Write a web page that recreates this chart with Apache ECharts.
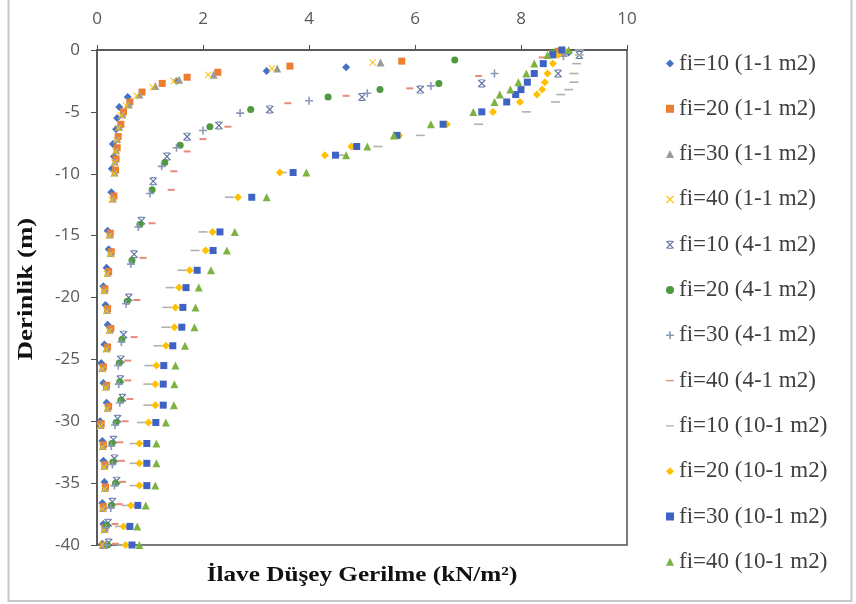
<!DOCTYPE html>
<html><head><meta charset="utf-8">
<script src="https://cdn.jsdelivr.net/npm/echarts@6/dist/echarts.min.js"></script>
<style>html,body{margin:0;padding:0;background:#fff}#c{width:856px;height:604px}</style>
</head><body><div id="c"></div>
<script>
// ---------- DATA ----------
const seriesNames = [
  'fi=10 (1-1 m2)','fi=20 (1-1 m2)','fi=30 (1-1 m2)','fi=40 (1-1 m2)',
  'fi=10 (4-1 m2)','fi=20 (4-1 m2)','fi=30 (4-1 m2)','fi=40 (4-1 m2)',
  'fi=10 (10-1 m2)','fi=20 (10-1 m2)','fi=30 (10-1 m2)','fi=40 (10-1 m2)'
];
const xAxisTitle = 'İlave Düşey Gerilme (kN/m²)';
const yAxisTitle = 'Derinlik (m)';

// 1-1 m2 group: [stress, depth]
const s1 = [[8.9,-0.2],[4.7,-1.4],[3.2,-1.7],[1.5,-2.5],[0.58,-3.8],[0.42,-4.6],[0.38,-5.5],[0.36,-6.4],[0.3,-7.6],[0.32,-8.6],[0.28,-9.6],[0.27,-11.5],[0.2,-14.6],[0.22,-16.1],[0.18,-17.6],[0.12,-19.1],[0.16,-20.6],[0.2,-22.2],[0.14,-23.8],[0.08,-25.3],[0.12,-26.9],[0.18,-28.5],[0.06,-30],[0.1,-31.6],[0.12,-33.2],[0.14,-34.9],[0.1,-36.6],[0.12,-38.3],[0.1,-39.9]];
const s2 = [[8.7,-0.1],[5.75,-0.9],[3.64,-1.3],[2.28,-1.8],[1.7,-2.2],[1.23,-2.7],[0.85,-3.4],[0.62,-4.2],[0.5,-5.0],[0.45,-6.0],[0.4,-7.0],[0.38,-7.9],[0.36,-8.8],[0.35,-9.7],[0.32,-11.8],[0.25,-14.8],[0.27,-16.3],[0.22,-17.9],[0.15,-19.3],[0.2,-20.9],[0.26,-22.5],[0.2,-24],[0.12,-25.6],[0.18,-27.1],[0.22,-28.8],[0.08,-30.2],[0.12,-31.9],[0.15,-33.5],[0.16,-35.3],[0.12,-36.9],[0.15,-38.6],[0.12,-40]];
const s3 = [[8.8,-0.2],[5.35,-1.0],[3.4,-1.5],[2.2,-2.0],[1.55,-2.4],[1.1,-2.9],[0.8,-3.6],[0.6,-4.4],[0.48,-5.2],[0.42,-6.2],[0.38,-7.2],[0.36,-8.1],[0.34,-9.0],[0.33,-9.9],[0.3,-12],[0.24,-14.9],[0.26,-16.4],[0.2,-18],[0.14,-19.4],[0.19,-21],[0.24,-22.6],[0.18,-24.1],[0.1,-25.7],[0.17,-27.2],[0.2,-28.9],[0.07,-30.3],[0.11,-32],[0.14,-33.6],[0.15,-35.4],[0.11,-37],[0.14,-38.7],[0.11,-40]];
const s4 = [[8.6,-0.3],[5.2,-1.0],[3.3,-1.5],[2.1,-2.0],[1.45,-2.5],[1.05,-3.0],[0.75,-3.7],[0.55,-4.5],[0.46,-5.3],[0.4,-6.3],[0.37,-7.3],[0.35,-8.2],[0.33,-9.1],[0.32,-10.0],[0.28,-12.1],[0.23,-15],[0.25,-16.5],[0.19,-18.1],[0.13,-19.5],[0.18,-21.1],[0.23,-22.7],[0.17,-24.2],[0.1,-25.8],[0.16,-27.3],[0.19,-29],[0.06,-30.4],[0.1,-32.1],[0.13,-33.7],[0.14,-35.5],[0.1,-37.1],[0.13,-38.8],[0.1,-40]];

// 4-1 m2 group: [stress, depth]
const s5 = [[9.1,-0.4],[8.7,-1.9],[7.26,-2.7],[6.1,-3.2],[5.0,-3.8],[3.26,-4.8],[2.3,-6.1],[1.7,-7.0],[1.32,-8.6],[1.06,-10.6],[0.84,-13.8],[0.7,-16.5],[0.6,-20.0],[0.5,-23.0],[0.45,-25.0],[0.44,-26.6],[0.48,-28.1],[0.39,-29.8],[0.31,-31.5],[0.33,-33.0],[0.37,-34.8],[0.29,-36.5],[0.21,-38.2],[0.22,-39.8]];
const s6 = [[8.6,-0.2],[6.75,-0.8],[6.45,-2.7],[5.34,-3.2],[4.36,-3.8],[2.9,-4.8],[2.13,-6.2],[1.57,-7.7],[1.28,-9.1],[1.04,-11.3],[0.81,-14.1],[0.66,-17.0],[0.57,-20.3],[0.47,-23.4],[0.42,-25.3],[0.43,-26.8],[0.45,-28.3],[0.36,-30.1],[0.28,-31.8],[0.3,-33.3],[0.35,-35.0],[0.27,-36.8],[0.18,-38.4],[0.2,-40]];
const s7 = [[8.8,-0.5],[7.5,-1.9],[6.3,-2.9],[5.1,-3.5],[4.0,-4.1],[2.7,-5.1],[2.0,-6.5],[1.5,-7.9],[1.22,-9.4],[1.0,-11.6],[0.78,-14.3],[0.64,-17.3],[0.55,-20.5],[0.46,-23.6],[0.4,-25.5],[0.41,-27.0],[0.43,-28.5],[0.34,-30.3],[0.27,-32.0],[0.29,-33.5],[0.33,-35.2],[0.26,-37.0],[0.17,-38.6],[0.18,-40]];
const s8 = [[8.4,-0.6],[7.2,-2.1],[5.9,-3.1],[4.7,-3.7],[3.6,-4.3],[2.47,-6.2],[2.0,-7.2],[1.7,-8.2],[1.45,-9.8],[1.4,-11.3],[1.04,-14.0],[0.87,-16.8],[0.75,-20.2],[0.7,-23.2],[0.58,-25.1],[0.58,-26.7],[0.62,-28.2],[0.53,-30.0],[0.43,-31.7],[0.46,-33.2],[0.48,-34.9],[0.42,-36.7],[0.34,-38.3],[0.35,-39.9]];

// 10-1 m2 group: depths shared, stresses per series
const depth10 = [0,-0.4,-1.1,-1.9,-2.6,-3.2,-3.6,-4.2,-5.0,-6.0,-6.9,-7.8,-8.5,-9.9,-11.9,-14.7,-16.2,-17.8,-19.2,-20.8,-22.4,-23.9,-25.5,-27.0,-28.7,-30.1,-31.8,-33.4,-35.2,-36.8,-38.5,-40];
const s9x  = [9.1,9.1,9.05,9.0,9.0,8.9,8.75,8.65,8.1,7.2,6.1,5.3,4.6,3.5,2.5,2.0,1.85,1.6,1.38,1.32,1.3,1.15,0.98,0.96,0.96,0.84,0.7,0.7,0.7,0.55,0.42,0.46];
const s10x = [8.8,8.7,8.6,8.5,8.45,8.4,8.3,7.98,7.47,6.6,5.7,4.8,4.3,3.45,2.66,2.18,2.05,1.75,1.55,1.48,1.46,1.3,1.12,1.1,1.1,0.97,0.8,0.8,0.8,0.64,0.5,0.54];
const s11x = [8.77,8.6,8.42,8.25,8.12,8.0,7.9,7.73,7.26,6.53,5.66,4.9,4.5,3.7,2.92,2.32,2.19,1.89,1.68,1.62,1.6,1.43,1.26,1.25,1.25,1.11,0.94,0.94,0.94,0.77,0.62,0.66];
const s12x = [8.9,8.5,8.25,8.1,7.95,7.8,7.6,7.5,7.1,6.3,5.6,5.1,4.7,3.95,3.2,2.6,2.45,2.15,1.92,1.86,1.84,1.66,1.48,1.46,1.45,1.3,1.12,1.12,1.1,0.92,0.76,0.8];

// ---------- STYLE ----------
const colors = ['#4472C4','#ED7D31','#9A9A9A','#FFC000','#5B6FA0','#4E9A3E','#8A9AB8','#E88A7A','#B0B0B0','#FFC000','#3F63C4','#7CB342'];
const SYM_X = 'path://M0,1L1,0L5,4L9,0L10,1L6,5L10,9L9,10L5,6L1,10L0,9L4,5Z';
const SYM_STAR = 'path://M0,1L1,0L5,4L9,0L10,1L6,5L10,9L9,10L5,6L1,10L0,9L4,5Z M2,0L8,0L8,1.2L2,1.2Z M2,8.8L8,8.8L8,10L2,10Z';
const SYM_PLUS = 'path://M4,0H6V4H10V6H6V10H4V6H0V4H4Z';
const SYM_DASH = 'path://M0,0M0,4.2L10,4.2L10,5.8L0,5.8Z M10,10';
const symbols = ['diamond','rect','triangle',SYM_X,SYM_STAR,'circle',SYM_PLUS,'rect','rect','diamond','rect','triangle'];
const sizes = [8,7,8,7,8,7,8,[7,2],[9,1.6],8,7,8];

const zip = (xs) => xs.map((v,i)=>[v, depth10[i]]);
const dataSets = [s1,s2,s3,s4,s5,s6,s7,s8,zip(s9x),zip(s10x),zip(s11x),zip(s12x)];
const legendIcons = ['diamond','rect','triangle',SYM_X,SYM_STAR,'circle',SYM_PLUS,SYM_DASH,SYM_DASH,'diamond','rect','triangle'];

const chart = echarts.init(document.getElementById('c'), null, {renderer:'canvas'});
const axisFont = {fontFamily:'"Open Sans", sans-serif', fontSize:17, color:'#595959'};
chart.setOption({
  animation:false,
  backgroundColor:'#fff',
  grid:{left:97, right:229, top:50, bottom:59, show:true, borderColor:'#505050', borderWidth:1.5, backgroundColor:'transparent'},
  xAxis:{type:'value', position:'top', min:0, max:10, interval:2,
    axisLine:{show:true, onZero:false, lineStyle:{color:'#505050', width:1.5}},
    axisTick:{show:true, inside:false, length:5, lineStyle:{color:'#505050'}},
    axisLabel:Object.assign({margin:22}, axisFont),
    splitLine:{show:false}},
  yAxis:{type:'value', min:-40, max:0, interval:5,
    axisLine:{show:true, onZero:false, lineStyle:{color:'#505050', width:1.5}},
    axisTick:{show:true, inside:false, length:6, lineStyle:{color:'#505050'}},
    axisLabel:Object.assign({margin:17}, axisFont),
    splitLine:{show:false}},
  legend:{orient:'vertical', left:661, top:47, itemWidth:8, itemHeight:8, itemGap:22.3,
    textStyle:{fontFamily:'"Liberation Serif", serif', fontSize:23, lineHeight:22, color:'#404040'},
    data: seriesNames.map((n,i)=>({name:n, icon:legendIcons[i], itemStyle:{color:colors[i]}}))},
  series: seriesNames.map((n,i)=>({
    name:n, type:'scatter', data:dataSets[i], symbol:symbols[i], symbolSize:sizes[i],
    itemStyle:{color:colors[i], opacity:1}
  })),
  graphic:[
    {type:'rect', shape:{x:8.5, y:-5, width:843, height:606}, style:{fill:'none', stroke:'#C8C8C8', lineWidth:2}, silent:true, z:-1},
    {type:'text', x:362, y:576, scaleX:1.2, style:{text:xAxisTitle, font:'bold 21px "Liberation Serif", serif', fill:'#111', align:'center', verticalAlign:'middle'}},
    {type:'text', x:27, y:289, rotation:Math.PI/2, scaleX:1.28, style:{text:yAxisTitle, font:'bold 21px "Liberation Serif", serif', fill:'#111', align:'center', verticalAlign:'middle'}}
  ]
});
</script></body></html>
